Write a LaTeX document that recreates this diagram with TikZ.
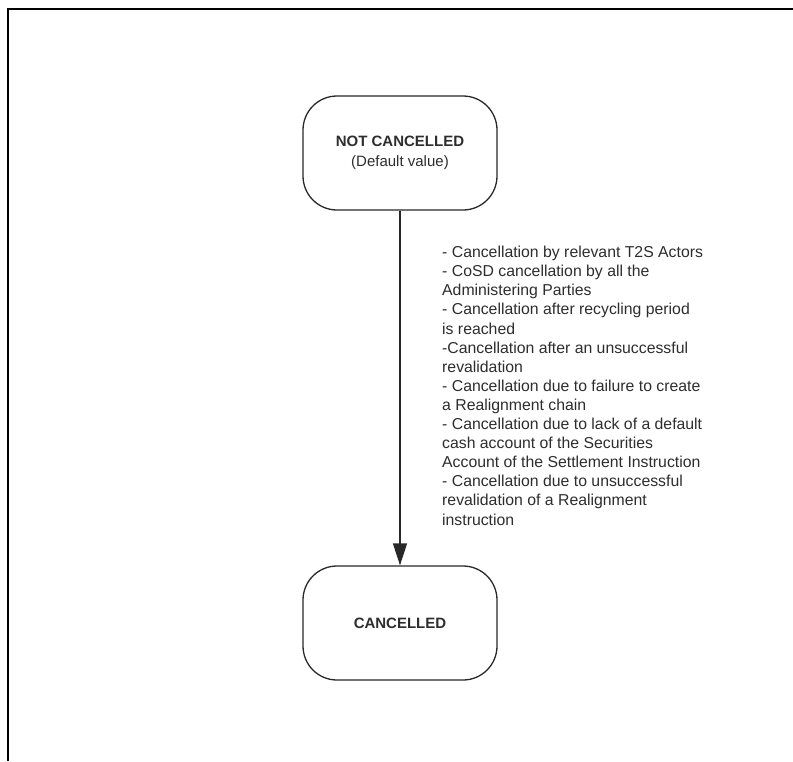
\documentclass[tikz,border=0pt]{standalone}
\usepackage{fontspec}
\setmainfont{Liberation Sans}
\usepackage{xcolor}
\usetikzlibrary{positioning, arrows.meta}
\definecolor{stateline}{RGB}{40, 40, 40}
\definecolor{statetext}{RGB}{45, 45, 45}

\begin{document}
\begin{tikzpicture}[x=1pt, y=1pt,
    state/.style={draw=stateline, line width=1.3pt, rounded corners=34pt, minimum width=194pt, minimum height=114pt, align=center, text=statetext, font=\fontsize{15}{20}\selectfont}]
        \useasboundingbox (0, 0) rectangle (793, -761);

        % Frame (top and left only)
        \draw[line width=2pt] (8, -761) -- (8, -9) -- (793, -9);

        % States
        \node[state] (notcancelled) at (400, -153) {\textbf{NOT CANCELLED}\\(Default value)};
        \node[state] (cancelled) at (400, -623) {\textbf{CANCELLED}};

        % Transition
        \draw[stateline, line width=1.3pt, -{Triangle[length=22pt, width=14pt]}] (notcancelled) -- (cancelled);

        % Reasons
        \node[anchor=north west, inner sep=0pt, align=left, text=statetext, font=\fontsize{15.8}{19.1}\selectfont] (reasons) at (442, -246) {- Cancellation by relevant T2S Actors\\
            - CoSD cancellation by all the\\
            Administering Parties\\
            - Cancellation after recycling period\\
            is reached\\
            -Cancellation after an unsuccessful\\
            revalidation\\
            - Cancellation due to failure to create\\
            a Realignment chain\\
            - Cancellation due to lack of a default\\
            cash account of the Securities\\
            Account of the Settlement Instruction\\
            - Cancellation due to unsuccessful\\
            revalidation of a Realignment\\
            instruction};

    \end{tikzpicture}
\end{document}
